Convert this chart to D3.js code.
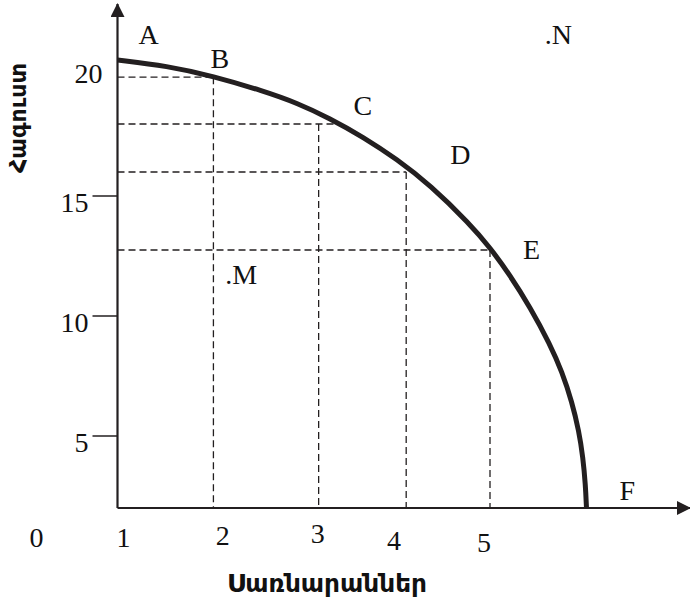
<!DOCTYPE html>
<html>
<head>
<meta charset="utf-8">
<script src="https://cdn.jsdelivr.net/npm/d3@7"></script>
<style>
  body{margin:0;background:#fff;}
  svg{display:block;}
</style>
</head>
<body>
<div id="chart"></div>
<script>
//production possibilities frontier: refrigerators vs clothing

//frontier (x = refrigerators, y = clothing)
var frontierX = [1.0, 1.532, 2.025, 2.562, 2.927, 3.282, 3.636, 4.001, 4.356, 4.785, 5.0, 5.215, 5.43, 5.644, 5.773, 5.88, 5.955, 5.998, 6.025, 6.036];
var frontierY = [20.67, 20.42, 20.0, 19.38, 18.88, 18.23, 17.46, 16.53, 15.46, 13.83, 12.85, 11.7, 10.37, 8.83, 7.675, 6.425, 5.2, 4.117, 2.97, 2.0];

//named points on the frontier
var pointNames = ["A", "B", "C", "D", "E", "F"];
var pointX = [1, 2.03, 3.32, 4.1, 5.0, 6.036];
var pointY = [20.67, 19.95, 18.0, 16.0, 12.75, 2.0];

//dashed guides: vertical drop at guideX, horizontal run out to guideReach
var guideX = [2.03, 3.16, 4.1, 5.0];
var guideY = [19.95, 18.0, 16.0, 12.75];
var guideReach = [2.03, 3.35, 4.1, 5.0];

//points off the frontier
var freeNames = ["N", "M"];
var freeX = [5.62, 2.19];
var freeY = [21.4, 11.4];

var xTickLabels = ["0", "1", "2", "3", "4", "5"];
var xTickValues = [0, 1, 2, 3, 4, 5];
var yTickValues = [5, 10, 15];
var yLabelValues = [5, 10, 15, 20];

var xTitle = "Սառնարաններ";
var yTitle = "Հագուստ";

var W = 690, H = 603;
var ink = "#231f20";
var serif = "'Liberation Serif','Times New Roman',serif";
var sans = "'DejaVu Sans Condensed','DejaVu Sans',sans-serif";

var x = d3.scaleLinear().domain([1, 5]).range([117.5, 490]);
var y = d3.scaleLinear().domain([5, 15]).range([436, 196]);
var yBase = 2; //the horizontal axis sits at this clothing level

var svg = d3.select("#chart").append("svg")
	.attr("width", W).attr("height", H)
	.style("background", "#fff");

//arrow heads
var defs = svg.append("defs");
defs.append("marker")
	.attr("id", "arrow")
	.attr("viewBox", "0 0 14 14")
	.attr("refX", 13).attr("refY", 7)
	.attr("markerWidth", 14).attr("markerHeight", 14)
	.attr("markerUnits", "userSpaceOnUse")
	.attr("orient", "auto")
	.append("path").attr("d", "M0,0 L14,7 L0,14 Z").attr("fill", ink);

//dashed guides
var guides = svg.append("g")
	.attr("stroke", ink).attr("stroke-width", 1.3)
	.attr("stroke-dasharray", "7,4").attr("fill", "none");

guides.selectAll("line.v").data(guideX).enter().append("line")
	.classed("v", true)
	.attr("x1", function(d){return x(d)}).attr("x2", function(d){return x(d)})
	.attr("y1", function(d, i){return y(guideY[i])}).attr("y2", y(yBase));

guides.selectAll("line.h").data(guideY).enter().append("line")
	.classed("h", true)
	.attr("x1", x(1)).attr("x2", function(d, i){return x(guideReach[i])})
	.attr("y1", function(d){return y(d)}).attr("y2", function(d){return y(d)});

//axes
var axes = svg.append("g").attr("stroke", ink).attr("stroke-width", 2.2);
axes.append("line")
	.attr("x1", x(1)).attr("y1", y(yBase))
	.attr("x2", 690).attr("y2", y(yBase))
	.attr("marker-end", "url(#arrow)");
axes.append("line")
	.attr("x1", x(1)).attr("y1", y(yBase))
	.attr("x2", x(1)).attr("y2", 4)
	.attr("marker-end", "url(#arrow)");

//y ticks sticking out to the left
axes.selectAll("line.tick").data(yTickValues).enter().append("line")
	.classed("tick", true)
	.attr("stroke-width", 1.5)
	.attr("x1", x(1) - 25).attr("x2", x(1))
	.attr("y1", function(d){return y(d)}).attr("y2", function(d){return y(d)});

//frontier
var line = d3.line()
	.x(function(d){return x(d[0])})
	.y(function(d){return y(d[1])})
	.curve(d3.curveBasis);

svg.append("path")
	.datum(frontierX.map(function(d, i){return [d, frontierY[i]]}))
	.attr("d", line)
	.attr("fill", "none")
	.attr("stroke", ink)
	.attr("stroke-width", 5);

//x tick labels, staggered like the print
var xNudge = {"0":[12,0], "1":[6,0], "2":[12,-2], "3":[14,-4], "4":[-3,3], "5":[-6,5]};
svg.append("g").selectAll("text").data(xTickValues).enter().append("text")
	.attr("x", function(d){return x(d) + xNudge[d][0]})
	.attr("y", function(d){return y(yBase) + 39 + xNudge[d][1]})
	.attr("text-anchor", "middle")
	.style("font-family", serif).style("font-size", "28px").attr("fill", "#111")
	.text(function(d, i){return xTickLabels[i]});

//y tick labels
svg.append("g").selectAll("text").data(yLabelValues).enter().append("text")
	.attr("x", function(d){return d == 20 ? x(1) - 15 : x(1) - 29})
	.attr("y", function(d){return d == 20 ? y(d) + 7 : y(d) + 16})
	.attr("text-anchor", "end")
	.style("font-family", serif).style("font-size", "28px").attr("fill", "#111")
	.text(function(d){return d});

//point letters
var letterOff = {A:[21,-16], B:[-3,-9], C:[20,-9], D:[44,-8], E:[33,9], F:[33,-8]};
svg.append("g").selectAll("text").data(pointNames).enter().append("text")
	.attr("x", function(d, i){return x(pointX[i]) + letterOff[d][0]})
	.attr("y", function(d, i){return y(pointY[i]) + letterOff[d][1]})
	.style("font-family", serif).style("font-size", "28px").attr("fill", "#111")
	.text(function(d){return d});

//free points with a dot in front
svg.append("g").selectAll("text").data(freeNames).enter().append("text")
	.attr("x", function(d, i){return x(freeX[i]) - 3})
	.attr("y", function(d, i){return y(freeY[i]) + 2})
	.style("font-family", serif).style("font-size", "28px").attr("fill", "#111")
	.text(function(d){return "." + d});

//axis titles
svg.append("text")
	.attr("x", 327).attr("y", 592)
	.attr("text-anchor", "middle")
	.attr("textLength", 200).attr("lengthAdjust", "spacingAndGlyphs")
	.style("font-family", sans).style("font-weight", "bold").style("font-size", "25px")
	.attr("fill", "#111")
	.text(xTitle);

svg.append("text")
	.attr("transform", "translate(26,118) rotate(-90)")
	.attr("text-anchor", "middle")
	.attr("textLength", 110).attr("lengthAdjust", "spacingAndGlyphs")
	.style("font-family", sans).style("font-weight", "bold").style("font-size", "23px")
	.attr("fill", "#111")
	.text(yTitle);
</script>
</body>
</html>
